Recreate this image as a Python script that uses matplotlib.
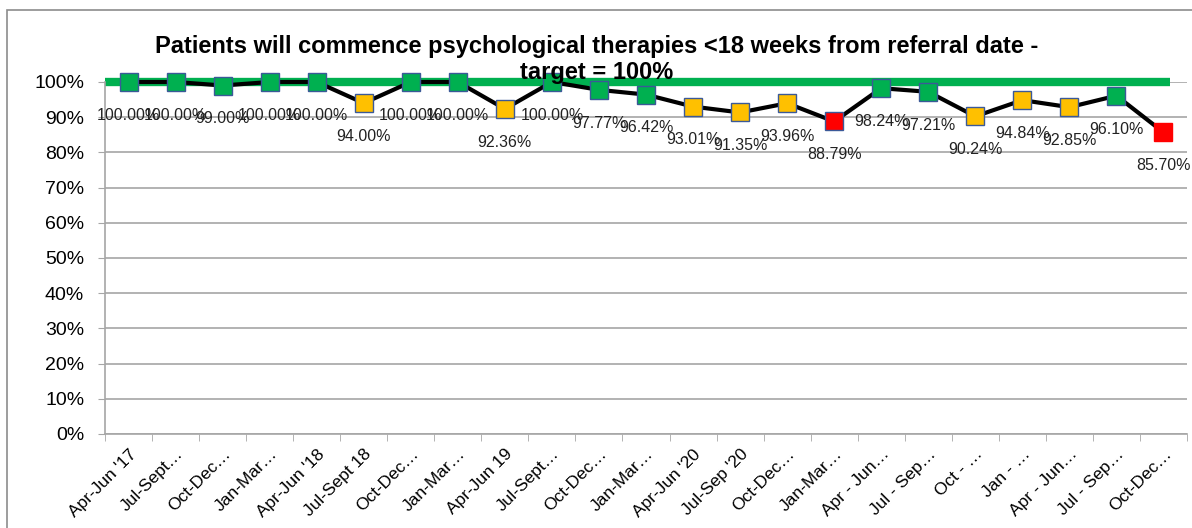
import matplotlib
matplotlib.use("Agg")
import matplotlib.pyplot as plt
import matplotlib.transforms as mtransforms
from matplotlib.patches import Rectangle

categories = ["Apr-Jun '17", "Jul-Sept…", "Oct-Dec…", "Jan-Mar…", "Apr-Jun '18",
              "Jul-Sept 18", "Oct-Dec…", "Jan-Mar…", "Apr-Jun 19", "Jul-Sept…",
              "Oct-Dec…", "Jan-Mar…", "Apr-Jun '20", "Jul-Sep '20", "Oct-Dec…",
              "Jan-Mar…", "Apr - Jun…", "Jul - Sep…", "Oct - …", "Jan - …",
              "Apr - Jun…", "Jul - Sep…", "Oct-Dec…"]
values = [100.00, 100.00, 99.00, 100.00, 100.00, 94.00, 100.00, 100.00, 92.36, 100.00,
          97.77, 96.42, 93.01, 91.35, 93.96, 88.79, 98.24, 97.21, 90.24, 94.84,
          92.85, 96.10, 85.70]
target = 100
yticks = list(range(0, 101, 10))

GREEN = "#00b050"
AMBER = "#ffc000"
RED = "#ff0000"

plt.rcParams['font.family'] = ['Liberation Sans', 'DejaVu Sans']

W, H = 1192, 528
fig = plt.figure(figsize=(W / 100, H / 100), dpi=100)
ax = fig.add_axes([105 / W, 1 - 434 / H, (1187 - 105) / W, (434 - 82) / H])

n = len(categories)
x = list(range(n))

ax.set_xlim(-0.5, n - 0.5)
ax.set_ylim(0, 100)

# gridlines
for t in yticks:
    ax.axhline(t, color="#a6a6a6", lw=1.2, zorder=1)

# target line
ax.plot([-0.5, n - 1 + 0.13], [target, target], color=GREEN, lw=6, zorder=2,
        solid_capstyle="butt", clip_on=False)

# series line
ax.plot(x, values, color="black", lw=3, zorder=3, clip_on=False)

for xi, v in zip(x, values):
    if v >= 95:
        c = GREEN
    elif v >= 90:
        c = AMBER
    else:
        c = RED
    ec = c if xi == n - 1 else "#3b5998"
    ax.plot(xi, v, marker="s", ms=13, mfc=c, mec=ec, mew=1, zorder=4, clip_on=False)
    ax.annotate(f"{v:.2f}%", (xi, v), xytext=(0, -24), textcoords="offset points",
                ha="center", va="center", fontsize=11.5, color="#222222", zorder=5)

ax.set_yticks(yticks)
ax.set_yticklabels([f"{t}%" for t in yticks], fontsize=14)
ax.set_xticks(x)
ax.set_xticklabels(categories, rotation=45, ha="right", rotation_mode="anchor",
                   fontsize=12.5)
offset = mtransforms.ScaledTranslation(-4 / 100, 0, fig.dpi_scale_trans)
for lbl in ax.get_xticklabels():
    lbl.set_transform(lbl.get_transform() + offset)
ax.set_xticks([i - 0.5 for i in range(n + 1)], minor=True)
ax.tick_params(axis="x", which="major", length=0, pad=9)
ax.tick_params(axis="x", which="minor", length=5, color="#a6a6a6", direction="out")
ax.tick_params(axis="y", length=5, color="#a6a6a6", pad=10)

for s in ["top", "right"]:
    ax.spines[s].set_visible(False)
ax.spines["left"].set_color("#a6a6a6")
ax.spines["bottom"].set_color("#a6a6a6")
ax.spines["left"].set_linewidth(1.2)
ax.spines["bottom"].set_linewidth(1.2)

fig.text(597 / W, 1 - 47 / H, "Patients will commence psychological therapies <18 weeks from referral date -",
         ha="center", va="center", fontsize=17, fontweight="bold")
fig.text(597 / W, 1 - 72 / H, "target = 100%",
         ha="center", va="center", fontsize=17, fontweight="bold", zorder=1)

# outer chart border
fig.patches.append(Rectangle((7 / W, -0.1), 1.2, 1.1 - 10 / H, transform=fig.transFigure,
                             fill=False, edgecolor="#8c8c8c", lw=1.2))

fig.savefig("out.png", dpi=100)
